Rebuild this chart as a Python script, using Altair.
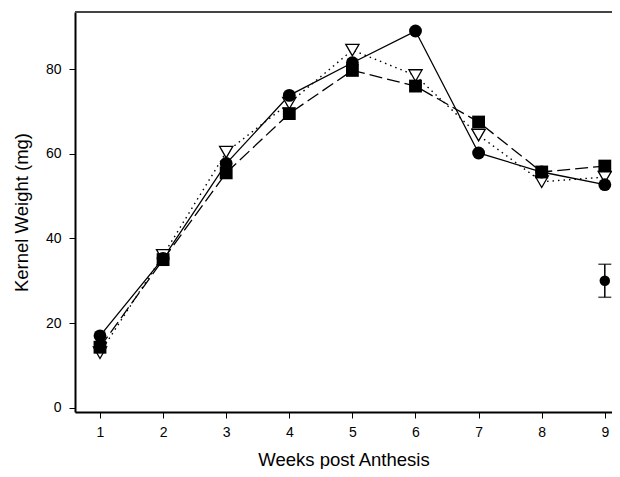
import altair as alt
import pandas as pd

weeks = [1, 2, 3, 4, 5, 6, 7, 8, 9]
circle_vals = [17.0, 35.3, 57.7, 73.8, 81.5, 89.0, 60.2, 55.7, 52.7]
square_vals = [14.3, 35.0, 55.5, 69.5, 79.7, 76.0, 67.5, 55.7, 57.1]
triangle_vals = [13.0, 36.0, 60.4, 72.0, 84.5, 78.5, 64.4, 53.4, 54.5]

err_week = [9]
err_mean = [30.0]
err_low = [26.1]
err_high = [33.9]

FONT = "Liberation Sans"

xscale = alt.Scale(domain=[0.604, 9.114], nice=False, zero=False)
yscale = alt.Scale(domain=[-1, 93.5], nice=False, zero=False)

xaxis = alt.Axis(values=weeks, title="Weeks post Anthesis", grid=False,
                 tickSize=6, tickColor="black", domainColor="black", domainWidth=2,
                 labelFontSize=14, labelPadding=7, titleFontSize=18.5, titlePadding=11,
                 labelFont=FONT, titleFont=FONT, titleFontWeight="normal",
                 labelColor="black", titleColor="black", format="d")
yaxis = alt.Axis(values=[0, 20, 40, 60, 80], title="Kernel Weight (mg)", grid=False,
                 tickSize=6, tickColor="black", domainColor="black", domainWidth=2,
                 labelFontSize=14, labelPadding=8, titleFontSize=18.5, titlePadding=14,
                 labelFont=FONT, titleFont=FONT, titleFontWeight="normal",
                 labelColor="black", titleColor="black", format="d")


def series(vals, name):
    return pd.DataFrame({"week": weeks, "value": vals, "series": name})


df_c = series(circle_vals, "circle")
df_s = series(square_vals, "square")
df_t = series(triangle_vals, "triangle")
df_e = pd.DataFrame({"week": err_week, "mean": err_mean, "low": err_low, "high": err_high})

X = alt.X("week:Q", scale=xscale, axis=xaxis)
Y = alt.Y("value:Q", scale=yscale, axis=yaxis)

line_t = alt.Chart(df_t).mark_line(color="black", strokeWidth=1.4, strokeDash=[1.5, 4]).encode(x=X, y=Y)
line_s = alt.Chart(df_s).mark_line(color="black", strokeWidth=1.3, strokeDash=[13, 5]).encode(x=X, y=Y)
line_c = alt.Chart(df_c).mark_line(color="black", strokeWidth=1.3).encode(x=X, y=Y)

pts_t = alt.Chart(df_t).mark_point(shape="triangle-down", size=175, filled=True, fill="white",
                                    stroke="black", strokeWidth=1.3, opacity=1).encode(x=X, y=Y)
pts_s = alt.Chart(df_s).mark_point(shape="square", size=165, filled=True, color="black",
                                    opacity=1).encode(x=X, y=Y)
pts_c = alt.Chart(df_c).mark_point(shape="circle", size=165, filled=True, color="black",
                                    opacity=1).encode(x=X, y=Y)

err_rule = alt.Chart(df_e).mark_rule(color="black", strokeWidth=1.5).encode(
    x=alt.X("week:Q", scale=xscale), y=alt.Y("low:Q", scale=yscale), y2="high:Q")
err_cap_lo = alt.Chart(df_e).mark_tick(color="black", orient="horizontal", size=13,
                                       thickness=1.5).encode(
    x=alt.X("week:Q", scale=xscale), y=alt.Y("low:Q", scale=yscale))
err_cap_hi = alt.Chart(df_e).mark_tick(color="black", orient="horizontal", size=13,
                                       thickness=1.5).encode(
    x=alt.X("week:Q", scale=xscale), y=alt.Y("high:Q", scale=yscale))
err_pt = alt.Chart(df_e).mark_point(shape="circle", size=110, filled=True, color="black",
                                     opacity=1).encode(
    x=alt.X("week:Q", scale=xscale), y=alt.Y("mean:Q", scale=yscale))

top_line = alt.Chart(df_e).mark_rule(color="#444", strokeWidth=2).encode(
    x=alt.value(0), x2=alt.value(537), y=alt.value(0))

chart = alt.layer(
    top_line, line_t, line_s, line_c, pts_t, pts_s, pts_c,
    err_rule, err_cap_lo, err_cap_hi, err_pt
).properties(
    width=537, height=400,
    autosize=alt.AutoSizeParams(type="none"),
    padding={"left": 67, "top": 4, "right": 0, "bottom": 57},
).configure_view(stroke=None).configure(background="white")

chart.save("out.html", embed_options={"renderer": "svg", "actions": False})
